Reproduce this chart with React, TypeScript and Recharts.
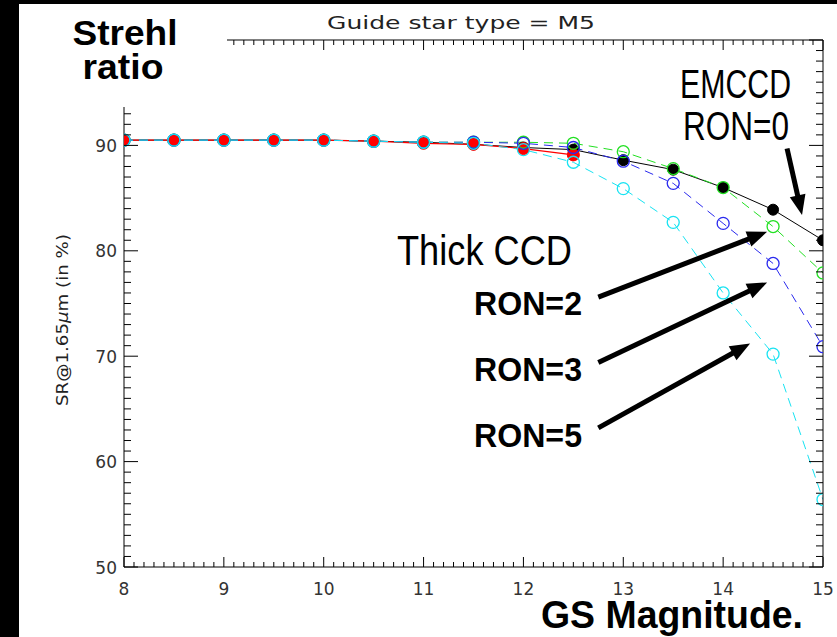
import React from 'react';
import { LineChart, Line, XAxis, YAxis, ReferenceLine } from 'recharts';

// guide star magnitude (x)
const MAGS = [8, 8.5, 9, 9.5, 10, 10.5, 11, 11.5, 12, 12.5, 13, 13.5, 14, 14.5, 15];

// Strehl ratio in % at 1.65 micron
const RED = [90.5, 90.5, 90.5, 90.5, 90.5, 90.4, 90.2, 90.1, 89.7, 89.1];
const EMCCD = [90.5, 90.5, 90.5, 90.5, 90.5, 90.4, 90.3, 90.1, 89.8, 89.6, 88.6, 87.7, 86.0, 83.9, 81.0];
const RON2 = [90.5, 90.5, 90.5, 90.5, 90.5, 90.4, 90.3, 90.3, 90.3, 90.2, 89.4, 87.8, 86.0, 82.3, 77.9];
const RON3 = [90.5, 90.5, 90.5, 90.5, 90.5, 90.4, 90.3, 90.3, 90.2, 89.8, 88.5, 86.4, 82.6, 78.8, 70.9];
const RON5 = [90.5, 90.5, 90.5, 90.5, 90.5, 90.4, 90.3, 90.2, 89.6, 88.4, 85.9, 82.7, 76.0, 70.2, 56.4];

const X_LABELS = [8, 9, 10, 11, 12, 13, 14, 15];
const Y_LABELS = [50, 60, 70, 80, 90];

// minor ticks every 0.1 mag and every 1 %
const X_TICKS: number[] = [];
for (let k = 80; k <= 150; k++) X_TICKS.push(k / 10);
const Y_TICKS: number[] = [];
for (let k = 50; k <= 100; k++) Y_TICKS.push(k);

// annotation arrows, in data units: [from, to]
const ARROWS = [
  { from: { x: 14.64, y: 89.7 }, to: { x: 14.79, y: 83.4 } },
  { from: { x: 12.75, y: 75.6 }, to: { x: 14.44, y: 81.8 } },
  { from: { x: 12.75, y: 69.4 }, to: { x: 14.44, y: 77.0 } },
  { from: { x: 12.75, y: 63.2 }, to: { x: 14.27, y: 71.2 } },
];

const data = MAGS.map((mag, i) => ({
  mag,
  red: i < RED.length ? RED[i] : null,
  emccd: EMCCD[i],
  ron2: RON2[i],
  ron3: RON3[i],
  ron5: RON5[i],
}));

const TICK_FONT = "'DejaVu Sans', sans-serif";
const isMajor = (v: number, step: number) => Math.abs(v / step - Math.round(v / step)) < 1e-6;

const BottomTick = (props: any) => {
  const { x, y, payload } = props;
  const v = payload.value;
  const major = isMajor(v, 1);
  return (
    <g>
      <line x1={x} y1={y} x2={x} y2={y - (major ? 10 : 5)} stroke="#000" />
      {major && X_LABELS.includes(Math.round(v)) && (
        <text x={x} y={y + 28} textAnchor="middle" fontSize={17} fontFamily={TICK_FONT} fill="#333">
          {Math.round(v)}
        </text>
      )}
    </g>
  );
};

const TopTick = (props: any) => {
  const { x, y, payload } = props;
  const major = isMajor(payload.value, 1);
  return <line x1={x} y1={y} x2={x} y2={y + (major ? 10 : 5)} stroke="#000" />;
};

const LeftTick = (props: any) => {
  const { x, y, payload } = props;
  const v = payload.value;
  const major = isMajor(v, 10);
  return (
    <g>
      <line x1={x} y1={y} x2={x + (major ? 14 : 7)} y2={y} stroke="#000" />
      {major && Y_LABELS.includes(v) && (
        <text x={x - 7} y={y + 6.5} textAnchor="end" fontSize={17} fontFamily={TICK_FONT} fill="#333">
          {v}
        </text>
      )}
    </g>
  );
};

const RightTick = (props: any) => {
  const { x, y, payload } = props;
  const major = isMajor(payload.value, 10);
  return <line x1={x} y1={y} x2={x - (major ? 14 : 7)} y2={y} stroke="#000" />;
};

const filledDot = (color: string, r: number) => (p: any) => {
  if (p.cy == null || p.value == null) return <g key={p.index} />;
  return <circle key={p.index} cx={p.cx} cy={p.cy} r={r} fill={color} stroke={color} />;
};

const openDot = (color: string) => (p: any) => {
  if (p.cy == null) return <g key={p.index} />;
  return <circle key={p.index} cx={p.cx} cy={p.cy} r={6} fill="none" stroke={color} strokeWidth={1.3} />;
};

const Arrow = (p: any) => {
  const { x1, y1, x2, y2 } = p;
  const dx = x2 - x1;
  const dy = y2 - y1;
  const len = Math.hypot(dx, dy);
  const ux = dx / len;
  const uy = dy / len;
  const hl = 20;
  const hw = 8;
  const bx = x2 - ux * hl;
  const by = y2 - uy * hl;
  return (
    <g>
      <line x1={x1} y1={y1} x2={bx + ux * 2} y2={by + uy * 2} stroke="#000" strokeWidth={5} />
      <polygon
        points={`${x2},${y2} ${bx - uy * hw},${by + ux * hw} ${bx + uy * hw},${by - ux * hw}`}
        fill="#000"
      />
    </g>
  );
};

const BOLD = "'Liberation Sans', Arial, sans-serif";
const NARROW = "'Liberation Sans Narrow', 'Liberation Sans', Arial, sans-serif";

export default function App() {
  return (
    <div style={{ position: 'absolute', left: 0, top: 0, width: 837, height: 637, background: '#fff', overflow: 'hidden' }}>
      <LineChart
        width={837}
        height={637}
        data={data}
        margin={{ top: 39, right: 13, left: 64, bottom: 40 }}
        style={{ position: 'absolute', left: 0, top: 0 }}
      >
        <XAxis
          dataKey="mag"
          type="number"
          domain={[8, 15]}
          ticks={X_TICKS}
          interval={0}
          tickSize={0}
          tickMargin={0}
          tick={<BottomTick />}
          axisLine={{ stroke: '#000' }}
          height={30}
          allowDataOverflow
        />
        <XAxis
          xAxisId="top"
          dataKey="mag"
          orientation="top"
          type="number"
          domain={[8, 15]}
          ticks={X_TICKS}
          interval={0}
          tickSize={0}
          tickMargin={0}
          tick={<TopTick />}
          axisLine={{ stroke: '#000' }}
          height={1}
          allowDataOverflow
        />
        <YAxis
          type="number"
          domain={[50, 100]}
          ticks={Y_TICKS}
          interval={0}
          tickSize={0}
          tickMargin={0}
          tick={<LeftTick />}
          axisLine={{ stroke: '#000' }}
          width={60}
          allowDataOverflow
        />
        <YAxis
          yAxisId="right"
          orientation="right"
          type="number"
          domain={[50, 100]}
          ticks={Y_TICKS}
          interval={0}
          tickSize={0}
          tickMargin={0}
          tick={<RightTick />}
          axisLine={{ stroke: '#000' }}
          width={1}
          allowDataOverflow
        />
        {/* invisible series so the mirrored top/right axes are drawn */}
        <Line xAxisId="top" yAxisId="right" dataKey="emccd" stroke="none" dot={false} legendType="none" isAnimationActive={false} />
        <Line dataKey="emccd" stroke="#000000" strokeWidth={1} dot={filledDot('#000000', 5.5)} isAnimationActive={false} />
        <Line dataKey="red" stroke="#ff0000" strokeWidth={1.2} dot={filledDot('#ff0000', 6)} isAnimationActive={false} />
        <Line dataKey="ron2" stroke="#22e022" strokeWidth={1} strokeDasharray="9 6" dot={openDot('#22e022')} isAnimationActive={false} />
        <Line dataKey="ron3" stroke="#2a2aee" strokeWidth={1} strokeDasharray="9 6" dot={openDot('#2a2aee')} isAnimationActive={false} />
        <Line dataKey="ron5" stroke="#19e3f2" strokeWidth={1} strokeDasharray="9 6" dot={openDot('#19e3f2')} isAnimationActive={false} />
        {ARROWS.map((a, i) => (
          <ReferenceLine key={i} segment={[a.from, a.to]} shape={(p: any) => <Arrow {...p} />} />
        ))}
      </LineChart>

      <svg width={837} height={637} style={{ position: 'absolute', left: 0, top: 0, pointerEvents: 'none' }}>
        <rect x={0} y={0} width={19} height={637} fill="#000" />
        <rect x={0} y={0} width={837} height={4} fill="#000" />
        <rect x={19} y={4} width={208} height={103} fill="#fff" />
        <text x={125} y={45} textAnchor="middle" fontSize={35} fontWeight="bold" fontFamily={BOLD} textLength={105} lengthAdjust="spacingAndGlyphs">Strehl</text>
        <text x={123} y={79} textAnchor="middle" fontSize={35} fontWeight="bold" fontFamily={BOLD} textLength={81} lengthAdjust="spacingAndGlyphs">ratio</text>
        <text x={327} y={29} fontSize={18} fontFamily={TICK_FONT} fill="#222" textLength={268} lengthAdjust="spacingAndGlyphs">Guide star type = M5</text>
        <text x={680} y={98} fontSize={41} fontFamily={NARROW} textLength={111} lengthAdjust="spacingAndGlyphs">EMCCD</text>
        <text x={683} y={140} fontSize={41} fontFamily={NARROW} textLength={106} lengthAdjust="spacingAndGlyphs">RON=0</text>
        <text x={397} y={265} fontSize={43} fontFamily={NARROW} textLength={175} lengthAdjust="spacingAndGlyphs">Thick CCD</text>
        <text x={474} y={315} fontSize={34} fontWeight="bold" fontFamily={BOLD} textLength={108} lengthAdjust="spacingAndGlyphs">RON=2</text>
        <text x={474} y={381} fontSize={34} fontWeight="bold" fontFamily={BOLD} textLength={108} lengthAdjust="spacingAndGlyphs">RON=3</text>
        <text x={474} y={447} fontSize={34} fontWeight="bold" fontFamily={BOLD} textLength={108} lengthAdjust="spacingAndGlyphs">RON=5</text>
        <text x={541} y={628} fontSize={39} fontWeight="bold" fontFamily={BOLD} textLength={262} lengthAdjust="spacingAndGlyphs">GS Magnitude.</text>
        <text
          x={63}
          y={320}
          transform="rotate(-90 63 320)"
          textAnchor="middle"
          dominantBaseline="middle"
          fontSize={15}
          fontFamily={TICK_FONT}
          fill="#222"
          textLength={172}
          lengthAdjust="spacingAndGlyphs"
        >
          SR@1.65<tspan fontStyle="italic">μ</tspan>m (in %)
        </text>
      </svg>
    </div>
  );
}
